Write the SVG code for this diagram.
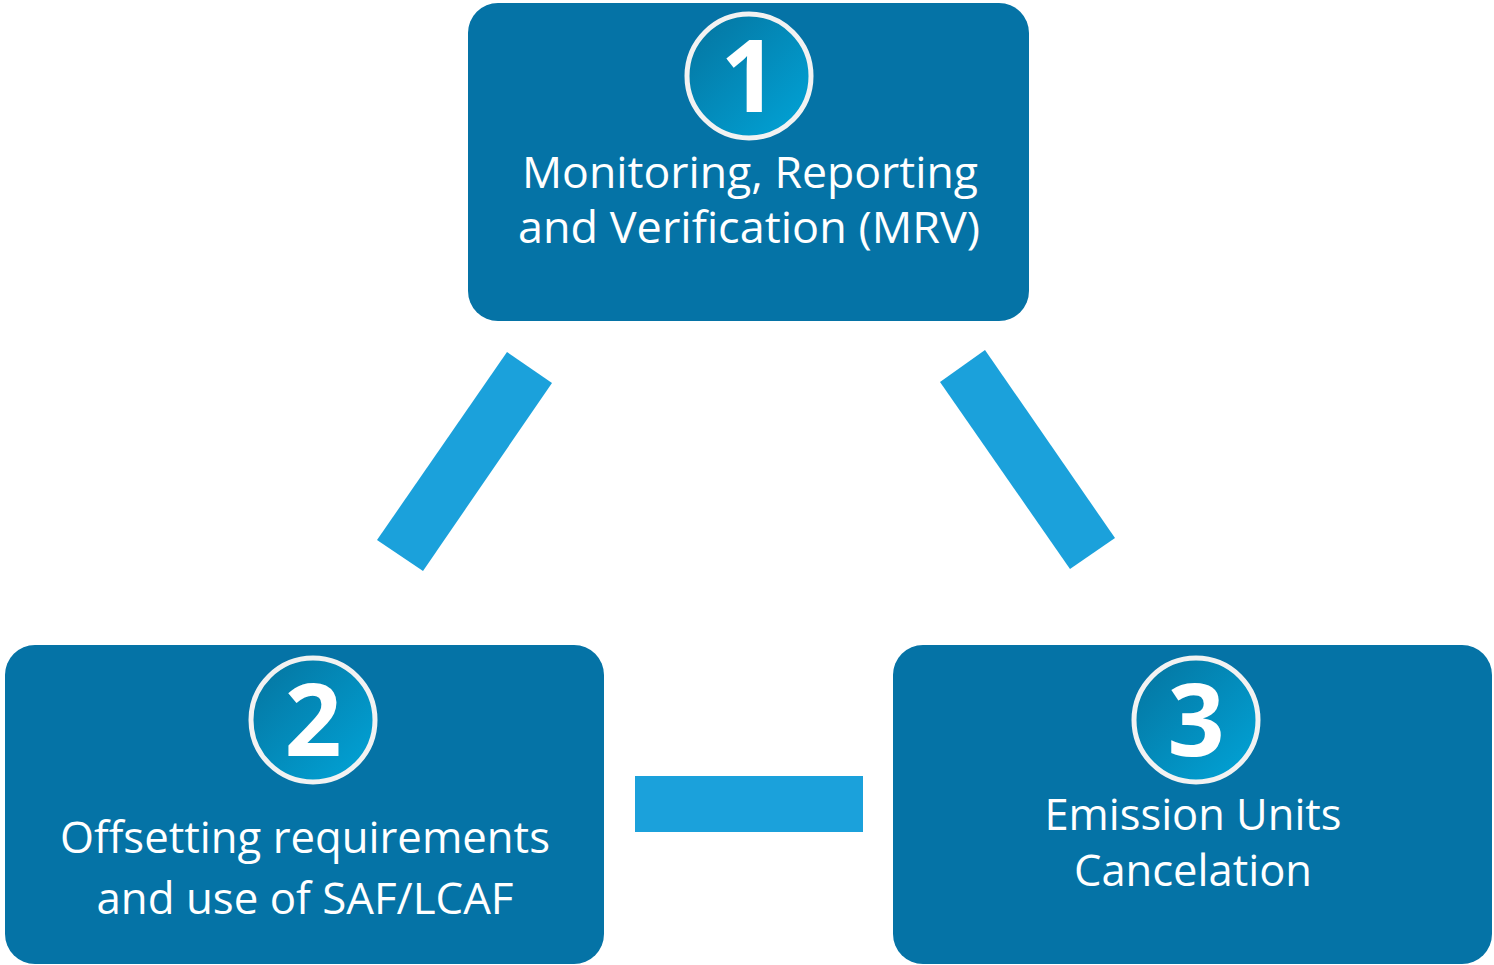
<svg xmlns="http://www.w3.org/2000/svg" width="1494" height="965" viewBox="0 0 1494 965">
<defs>
<linearGradient id="cg" x1="0" y1="0" x2="1" y2="1">
<stop offset="0" stop-color="#05739E"/>
<stop offset="1" stop-color="#01A5D9"/>
</linearGradient>
<style>
.box{fill:#0573A6}
.bar{fill:#1BA1DB}
.badge{fill:url(#cg);stroke:#F2F2F2;stroke-width:5}
.num{font-family:"Open Sans","Liberation Sans",sans-serif;font-weight:bold;font-size:100px;fill:#fff;text-anchor:middle}
.lbl{font-family:"Open Sans","Liberation Sans",sans-serif;font-size:43px;fill:#fff;text-anchor:middle}
</style>
</defs>
<rect width="1494" height="965" fill="#fff"/>
<g id="connectors">
<polygon class="bar" points="507,352 552,383 423,571 377,540"/>
<polygon class="bar" points="985,350 940,382 1070,569 1115,538"/>
<rect class="bar" x="635" y="776" width="228" height="56"/>
</g>
<g id="node1">
<rect class="box" x="468" y="3" width="561" height="318" rx="30"/>
<circle class="badge" cx="749" cy="76" r="62"/>
<text class="num" x="749" y="112">1</text>
<text class="lbl" x="750" y="188" textLength="456" lengthAdjust="spacingAndGlyphs">Monitoring, Reporting</text>
<text class="lbl" x="749" y="243" textLength="462" lengthAdjust="spacingAndGlyphs">and Verification (MRV)</text>
</g>
<g id="node2">
<rect class="box" x="5" y="645" width="599" height="319" rx="30"/>
<circle class="badge" cx="313" cy="720" r="62"/>
<text class="num" x="313" y="756">2</text>
<text class="lbl" x="305" y="853" textLength="490" lengthAdjust="spacingAndGlyphs">Offsetting requirements</text>
<text class="lbl" x="305" y="914" textLength="417" lengthAdjust="spacingAndGlyphs">and use of SAF/LCAF</text>
</g>
<g id="node3">
<rect class="box" x="893" y="645" width="599" height="319" rx="30"/>
<circle class="badge" cx="1196" cy="720" r="62"/>
<text class="num" x="1196" y="756">3</text>
<text class="lbl" x="1193" y="830" textLength="297" lengthAdjust="spacingAndGlyphs">Emission Units</text>
<text class="lbl" x="1193" y="886" textLength="238" lengthAdjust="spacingAndGlyphs">Cancelation</text>
</g>
</svg>
